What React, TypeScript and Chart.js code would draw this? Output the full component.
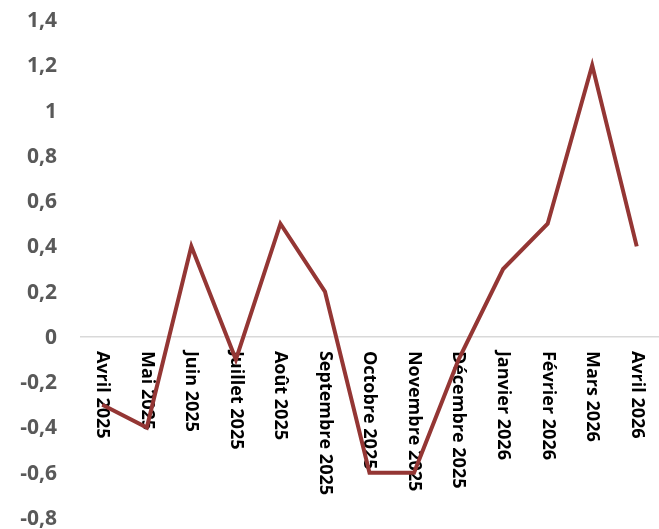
import React, { useEffect, useRef } from "react";
import { Chart, registerables } from "chart.js";

Chart.register(...registerables);

const categories = [
  "Avril 2025", "Mai 2025", "Juin 2025", "Juillet 2025", "Août 2025",
  "Septembre 2025", "Octobre 2025", "Novembre 2025", "Décembre 2025",
  "Janvier 2026", "Février 2026", "Mars 2026", "Avril 2026",
];
const values = [-0.3, -0.4, 0.4, -0.1, 0.5, 0.2, -0.6, -0.6, -0.1, 0.3, 0.5, 1.2, 0.4];
const yTicks = [-0.8, -0.6, -0.4, -0.2, 0, 0.2, 0.4, 0.6, 0.8, 1, 1.2, 1.4];

const fmt = (v: number) => String(Math.round(v * 10) / 10).replace(".", ",");

const labelsPlugin = {
  id: "customLabels",
  beforeDatasetsDraw(chart: any) {
    const { ctx, scales } = chart;
    const x = scales.x;
    const y = scales.y;
    ctx.save();
    // y-axis tick labels
    ctx.fillStyle = "#595959";
    ctx.font = "bold 21px 'Open Sans'";
    ctx.textAlign = "right";
    ctx.textBaseline = "middle";
    yTicks.forEach((v) => {
      ctx.fillText(fmt(v), 57, y.getPixelForValue(v) + 1);
    });
    // x-axis category labels, rotated clockwise
    const y0 = y.getPixelForValue(0) + 14;
    ctx.fillStyle = "#000000";
    ctx.font = "bold 18px 'Open Sans'";
    ctx.textAlign = "left";
    ctx.textBaseline = "middle";
    categories.forEach((c, i) => {
      const px = x.getPixelForValue(i);
      ctx.save();
      ctx.translate(px, y0);
      ctx.rotate(Math.PI / 2);
      ctx.fillText(c, 0, 0);
      ctx.restore();
    });
    ctx.restore();
  },
};

export default function App() {
  const ref = useRef<HTMLCanvasElement | null>(null);
  useEffect(() => {
    if (!ref.current) return;
    const chart = new Chart(ref.current, {
      type: "line",
      data: {
        labels: categories,
        datasets: [
          {
            data: values,
            borderColor: "#943634",
            borderWidth: 4,
            pointRadius: 0,
            tension: 0,
            fill: false,
          },
        ],
      },
      options: {
        animation: false,
        responsive: true,
        maintainAspectRatio: false,
        layout: { autoPadding: false, padding: { top: 20, bottom: 11, left: 0, right: 0 } },
        plugins: { legend: { display: false }, tooltip: { enabled: false } },
        scales: {
          x: { display: false, offset: true },
          y: {
            min: -0.8,
            max: 1.4,
            afterBuildTicks: (scale: any) => {
              scale.ticks = yTicks.map((v) => ({ value: v }));
            },
            afterFit: (scale: any) => {
              scale.width = 80;
            },
            border: { display: false },
            grid: {
              drawTicks: false,
              lineWidth: 1.5,
              color: (ctx: any) => (ctx.tick && ctx.tick.value === 0 ? "#d9d9d9" : "rgba(0,0,0,0)"),
            },
            ticks: { display: false },
          },
        },
      },
      plugins: [labelsPlugin],
    });
    return () => chart.destroy();
  }, []);
  return (
    <div style={{ position: "absolute", left: 0, top: 0, width: 659, height: 529 }}>
      <canvas ref={ref} />
    </div>
  );
}
